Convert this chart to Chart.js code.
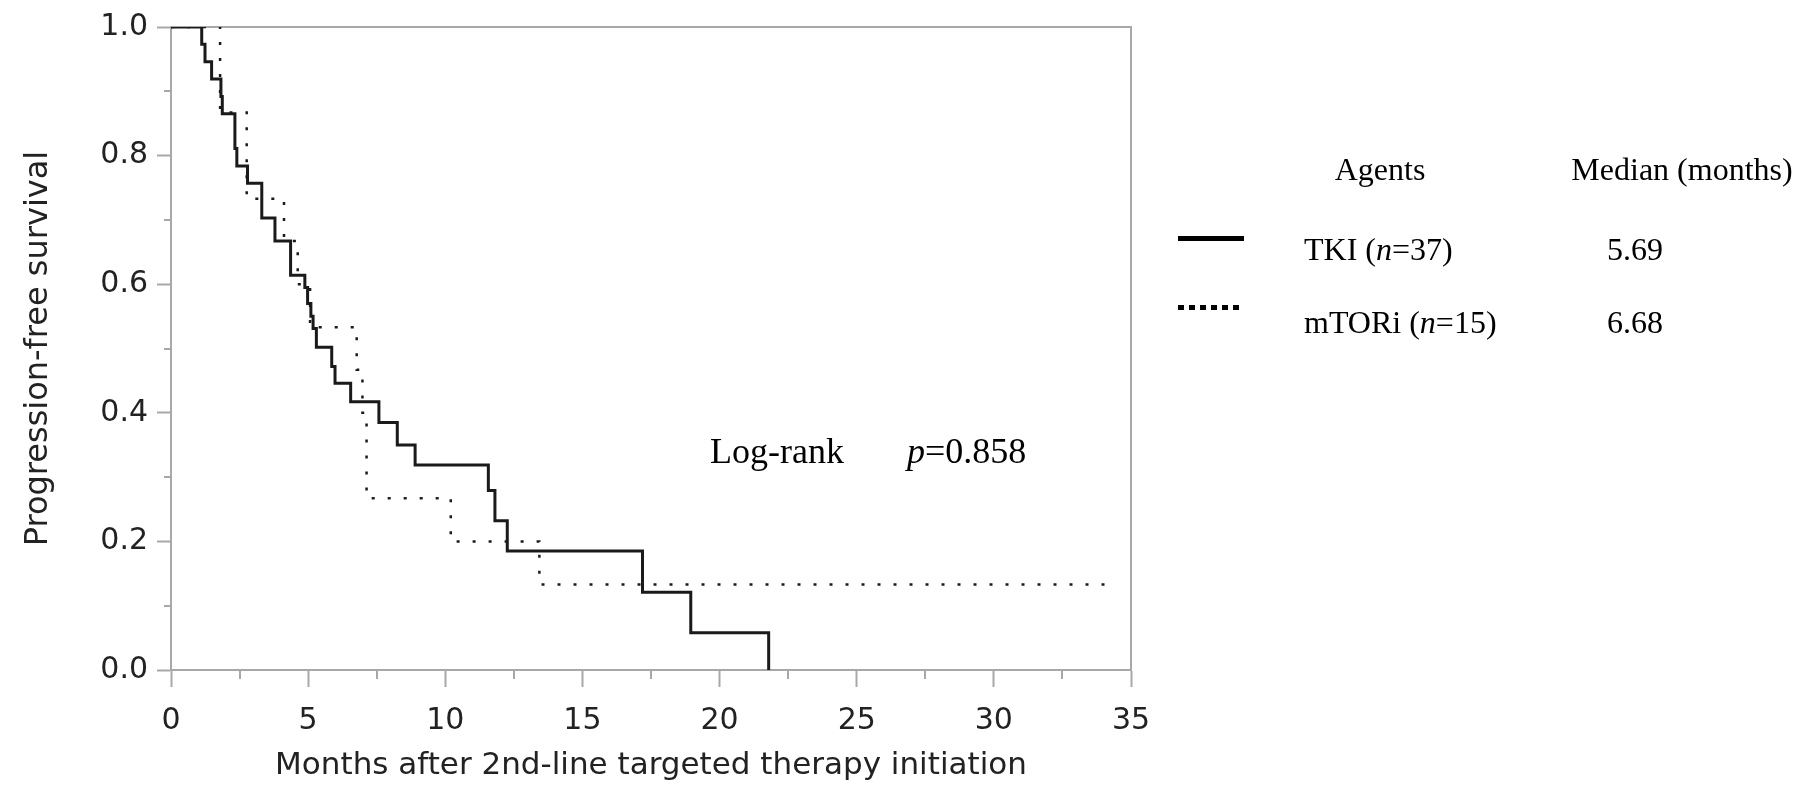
<!DOCTYPE html>
<html>
<head>
<meta charset="utf-8">
<title>Progression-free survival</title>
<script src="https://cdn.jsdelivr.net/npm/chart.js@4.4.0/dist/chart.umd.min.js"></script>
<style>
  body { margin: 0; background: #fff; }
  #wrap { position: relative; width: 1814px; height: 785px; background: #fff; }
  #km { position: absolute; left: 0; top: 0; }
  .note { position: absolute; font-family: 'Liberation Serif', 'Times New Roman', serif; color: #000; white-space: nowrap; line-height: 32px; height: 32px; font-size: 32px; }
  .center { transform: translateX(-50%); }
  .sample { position: absolute; left: 1178px; width: 66px; height: 5px; }
</style>
</head>
<body>
<div id="wrap">
  <canvas id="km" width="1814" height="785"></canvas>

  <div class="note center" style="left:1380px; top:153px;">Agents</div>
  <div class="note center" style="left:1682px; top:153px;">Median (months)</div>

  <div class="sample" style="top:236px; background:#000;"></div>
  <div class="note" style="left:1304px; top:233px;">TKI (<i>n</i>=37)</div>
  <div class="note center" style="left:1635px; top:233px;">5.69</div>

  <div class="sample" style="top:305px; background:repeating-linear-gradient(90deg, #000 0 6px, transparent 6px 11px);"></div>
  <div class="note" style="left:1304px; top:306px;">mTORi (<i>n</i>=15)</div>
  <div class="note center" style="left:1635px; top:306px;">6.68</div>

  <div class="note" style="left:710px; top:433px; font-size:36px; line-height:36px; height:36px;">Log-rank</div>
  <div class="note" style="left:907px; top:433px; font-size:36px; line-height:36px; height:36px;"><i>p</i>=0.858</div>
</div>

<script>
'use strict';

// >>> chart data <<<
// TKI group, n=37 : time of each step (months) and survival after it
let tkiMonths = [0, 1.12, 1.24, 1.48, 1.82, 1.87, 2.33, 2.40, 2.79, 3.31,
  3.79, 4.36, 4.88, 4.98, 5.10, 5.18, 5.30, 5.86, 5.98, 6.55,
  7.58, 8.25, 8.90, 11.57, 11.81, 12.26, 17.19, 18.95, 21.79];
let tkiSurvival = [1, 0.973, 0.946, 0.919, 0.892, 0.865, 0.811, 0.784, 0.757, 0.703,
  0.667, 0.614, 0.595, 0.570, 0.550, 0.531, 0.502, 0.472, 0.446, 0.417,
  0.385, 0.350, 0.319, 0.279, 0.232, 0.185, 0.121, 0.058, 0];

// mTORi group, n=15
let mtorMonths = [0, 1.79, 2.76, 4.12, 4.62, 5.07, 6.77, 6.98, 7.13, 10.20, 13.43, 34.1];
let mtorSurvival = [1, 0.867, 0.733, 0.667, 0.600, 0.533, 0.467, 0.400, 0.267, 0.200, 0.133, 0.133];

// tick labels
let xTickLabels = ['0', '5', '10', '15', '20', '25', '30', '35'];
let yTickLabels = ['0.0', '0.2', '0.4', '0.6', '0.8', '1.0'];

let axisGray = '#a8a8a8';
let textColor = '#222';

// helper: turn two arrays into {x, y} points
function toPoints(months, surv) {
  let pts = [];
  for (let i = 0; i < months.length; i++) {
    pts.push({ x: months[i], y: surv[i] });
  }
  return pts;
}

// >>> plugin: short minor ticks + top/right frame <<<
let frameAndMinorTicks = {
  id: 'frameAndMinorTicks',
  beforeDatasetsDraw(chart) {
    let ctx = chart.ctx;
    let area = chart.chartArea;
    ctx.save();
    ctx.strokeStyle = axisGray;
    ctx.lineWidth = 2;
    ctx.beginPath();
    ctx.moveTo(area.left, area.top);
    ctx.lineTo(area.right, area.top);
    ctx.lineTo(area.right, area.bottom);
    ctx.stroke();
    ctx.restore();
  },
  afterDraw(chart) {
    let ctx = chart.ctx;
    let area = chart.chartArea;
    let xs = chart.scales.x;
    let ys = chart.scales.y;
    ctx.save();
    ctx.strokeStyle = axisGray;
    ctx.lineWidth = 2;
    ctx.beginPath();
    for (let v = 2.5; v < 35; v += 5) {
      let px = Math.round(xs.getPixelForValue(v));
      ctx.moveTo(px, area.bottom);
      ctx.lineTo(px, area.bottom + 9);
    }
    for (let k = 1; k < 10; k += 2) {
      let py = Math.round(ys.getPixelForValue(k / 10));
      ctx.moveTo(area.left, py);
      ctx.lineTo(area.left - 7, py);
    }
    ctx.stroke();
    ctx.restore();
  }
};

Chart.defaults.font.family = "'DejaVu Sans', Verdana, sans-serif";
Chart.defaults.color = textColor;

let canvasElement = document.getElementById('km').getContext('2d');

let kmChart = new Chart(canvasElement, {
  type: 'scatter',
  data: {
    datasets: [{
      label: 'TKI (n=37)',
      data: toPoints(tkiMonths, tkiSurvival),
      showLine: true,
      stepped: true,
      borderColor: '#1a1a1a',
      borderWidth: 3,
      pointRadius: 0,
      fill: false
    },
    {
      label: 'mTORi (n=15)',
      data: toPoints(mtorMonths, mtorSurvival),
      showLine: true,
      stepped: true,
      borderColor: '#1a1a1a',
      borderWidth: 2.5,
      borderDash: [3, 13],
      pointRadius: 0,
      fill: false
    }]
  },
  options: {
    responsive: false,
    animation: false,
    devicePixelRatio: 1,
    layout: { padding: { top: 23, right: 683, left: 0, bottom: 0 } },
    plugins: {
      legend: { display: false },
      tooltip: { enabled: false }
    },
    scales: {
      x: {
        type: 'linear',
        min: 0,
        max: 35,
        afterFit(scale) { scale.height = 115; },
        border: { color: axisGray, width: 2 },
        grid: {
          drawOnChartArea: false,
          tickLength: 17,
          tickWidth: 2,
          tickColor: (c) => (c.index % 2 === 0 ? axisGray : 'rgba(0,0,0,0)')
        },
        ticks: {
          stepSize: 2.5,
          autoSkip: false,
          maxRotation: 0,
          padding: 16,
          font: { size: 30 },
          callback: (v) => {
            let i = Math.round(v / 2.5);
            return i % 2 === 0 ? xTickLabels[i / 2] : '';
          }
        },
        title: {
          display: true,
          text: 'Months after 2nd-line targeted therapy initiation',
          font: { size: 31 },
          padding: { top: 0, bottom: 0 }
        }
      },
      y: {
        type: 'linear',
        min: 0,
        max: 1,
        afterFit(scale) { scale.width = 171; },
        border: { color: axisGray, width: 2 },
        grid: {
          drawOnChartArea: false,
          tickLength: 14,
          tickWidth: 2,
          tickColor: (c) => (c.index % 2 === 0 ? axisGray : 'rgba(0,0,0,0)')
        },
        ticks: {
          stepSize: 0.1,
          autoSkip: false,
          padding: 9,
          font: { size: 30 },
          callback: (v) => {
            let i = Math.round(v * 10);
            return i % 2 === 0 ? yTickLabels[i / 2] : '';
          }
        },
        title: {
          display: true,
          text: 'Progression-free survival',
          font: { size: 32 },
          padding: { top: 19, bottom: 0 }
        }
      }
    }
  },
  plugins: [frameAndMinorTicks]
});
</script>
</body>
</html>
